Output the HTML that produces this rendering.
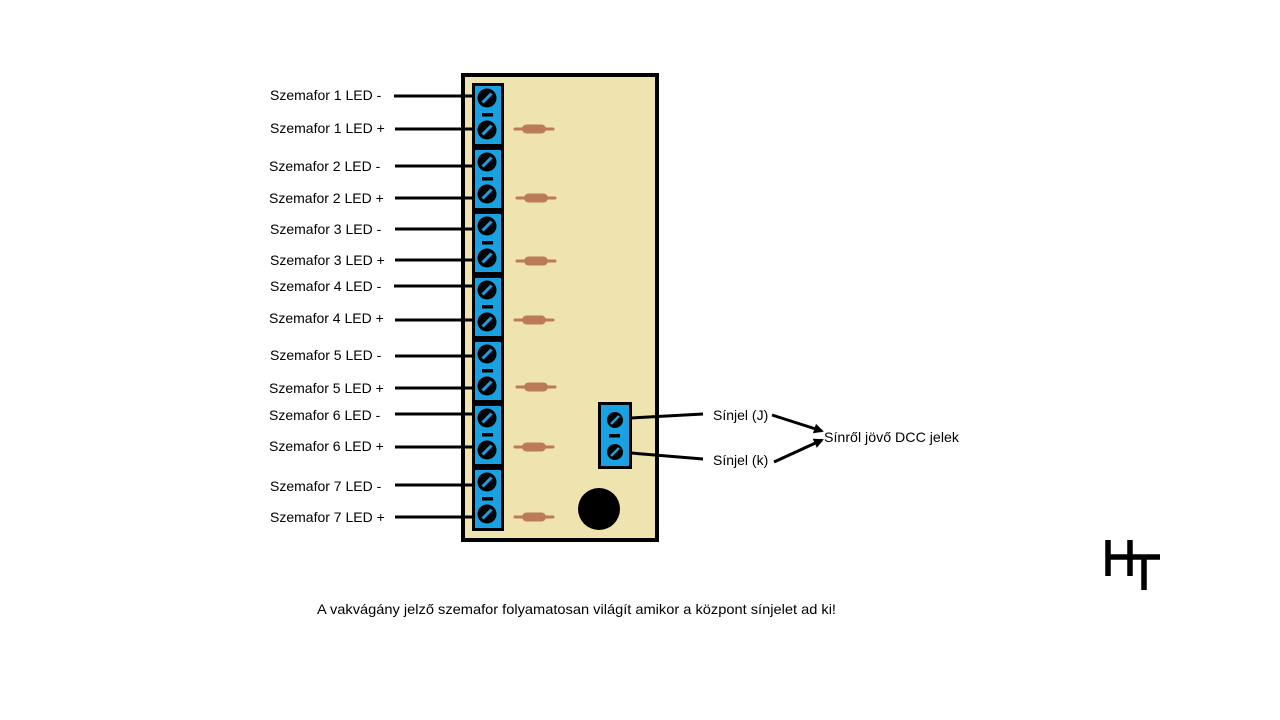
<!DOCTYPE html>
<html><head><meta charset="utf-8"><style>
html,body{margin:0;padding:0;background:#fff;width:1280px;height:720px;overflow:hidden}
text{font-family:"Liberation Sans",sans-serif;font-size:14px;fill:#000}
</style></head><body>
<svg width="1280" height="720" viewBox="0 0 1280 720" xmlns="http://www.w3.org/2000/svg">
<defs>
<g id="scr"><circle r="9.5" fill="#000"/><line x1="-4.5" y1="4.5" x2="4.5" y2="-4.5" stroke="#1aa1e1" stroke-width="3"/></g>
<g id="blk">
<rect x="473.5" y="1.5" width="29" height="61" fill="#1aa1e1" stroke="#000" stroke-width="3"/>
<use href="#scr" x="487" y="15"/>
<rect x="482" y="30" width="11" height="3.5" fill="#000"/>
<use href="#scr" x="487" y="47"/>
</g>
<g id="res">
<line x1="0" y1="0" x2="38" y2="0" stroke="#bb7a58" stroke-width="3" stroke-linecap="round"/>
<rect x="7" y="-4.5" width="24" height="9" rx="4.5" fill="#bb7a58"/>
</g>
<marker id="ah" markerWidth="10" markerHeight="10" refX="8" refY="5" orient="auto" markerUnits="userSpaceOnUse"><path d="M0,0 L10,5 L0,10 Z" fill="#000"/></marker>
</defs>
<rect x="463" y="75" width="194" height="465" fill="#efe3b0" stroke="#000" stroke-width="4"/>
<g stroke="#000" stroke-width="3">
<line x1="394" y1="96" x2="474" y2="96"/>
<line x1="395" y1="129" x2="474" y2="129"/>
<line x1="395" y1="166" x2="474" y2="166"/>
<line x1="395" y1="198" x2="474" y2="198"/>
<line x1="395" y1="229" x2="474" y2="229"/>
<line x1="395" y1="260" x2="474" y2="260"/>
<line x1="394" y1="286" x2="474" y2="286"/>
<line x1="395" y1="320" x2="474" y2="320"/>
<line x1="395" y1="356" x2="474" y2="356"/>
<line x1="395" y1="388" x2="474" y2="388"/>
<line x1="395" y1="414" x2="474" y2="414"/>
<line x1="395" y1="447" x2="474" y2="447"/>
<line x1="395" y1="485" x2="474" y2="485"/>
<line x1="395" y1="517" x2="474" y2="517"/>
</g>
<use href="#blk" y="83"/><use href="#blk" y="147"/><use href="#blk" y="211"/><use href="#blk" y="275"/><use href="#blk" y="339"/><use href="#blk" y="403"/><use href="#blk" y="467"/>
<use href="#res" x="515" y="129"/><use href="#res" x="517" y="198"/><use href="#res" x="517" y="261"/><use href="#res" x="515" y="320"/><use href="#res" x="517" y="387"/><use href="#res" x="515" y="447"/><use href="#res" x="515" y="517"/>
<rect x="599.5" y="403.5" width="31" height="64" fill="#1aa1e1" stroke="#000" stroke-width="3"/>
<circle cx="615" cy="420" r="8" fill="#000"/><line x1="611" y1="424" x2="619" y2="416" stroke="#1aa1e1" stroke-width="2.5"/>
<rect x="609" y="434" width="11" height="3.5" fill="#000"/>
<circle cx="615" cy="452" r="8" fill="#000"/><line x1="611" y1="456" x2="619" y2="448" stroke="#1aa1e1" stroke-width="2.5"/>
<circle cx="599" cy="509" r="21" fill="#000"/>
<g stroke="#000" stroke-width="3">
<line x1="631" y1="418" x2="703" y2="414"/>
<line x1="631" y1="453" x2="703" y2="459"/>
<line x1="772" y1="415" x2="822" y2="431" marker-end="url(#ah)"/>
<line x1="774" y1="462" x2="822" y2="440" marker-end="url(#ah)"/>
</g>
<g>
<text x="270" y="100">Szemafor 1 LED -</text>
<text x="270" y="133">Szemafor 1 LED +</text>
<text x="269" y="171">Szemafor 2 LED -</text>
<text x="269" y="203">Szemafor 2 LED +</text>
<text x="270" y="234">Szemafor 3 LED -</text>
<text x="270" y="265">Szemafor 3 LED +</text>
<text x="270" y="291">Szemafor 4 LED -</text>
<text x="269" y="323">Szemafor 4 LED +</text>
<text x="270" y="360">Szemafor 5 LED -</text>
<text x="269" y="393">Szemafor 5 LED +</text>
<text x="269" y="420">Szemafor 6 LED -</text>
<text x="269" y="451">Szemafor 6 LED +</text>
<text x="270" y="491">Szemafor 7 LED -</text>
<text x="270" y="522">Szemafor 7 LED +</text>
<text x="713" y="420">Sínjel (J)</text>
<text x="713" y="465">Sínjel (k)</text>
<text x="824" y="442" textLength="135" lengthAdjust="spacingAndGlyphs">Sínről jövő DCC jelek</text>
<text x="317" y="614" textLength="519" lengthAdjust="spacingAndGlyphs">A vakvágány jelző szemafor folyamatosan világít amikor a központ sínjelet ad ki!</text>
</g>
<g stroke="#000" stroke-width="5.5">
<line x1="1108" y1="540" x2="1108" y2="576"/>
<line x1="1130" y1="540" x2="1130" y2="576"/>
<line x1="1106" y1="557" x2="1132" y2="557"/>
<line x1="1129" y1="557" x2="1160" y2="557"/>
<line x1="1144" y1="557" x2="1144" y2="590"/>
</g>
</svg>
</body></html>
